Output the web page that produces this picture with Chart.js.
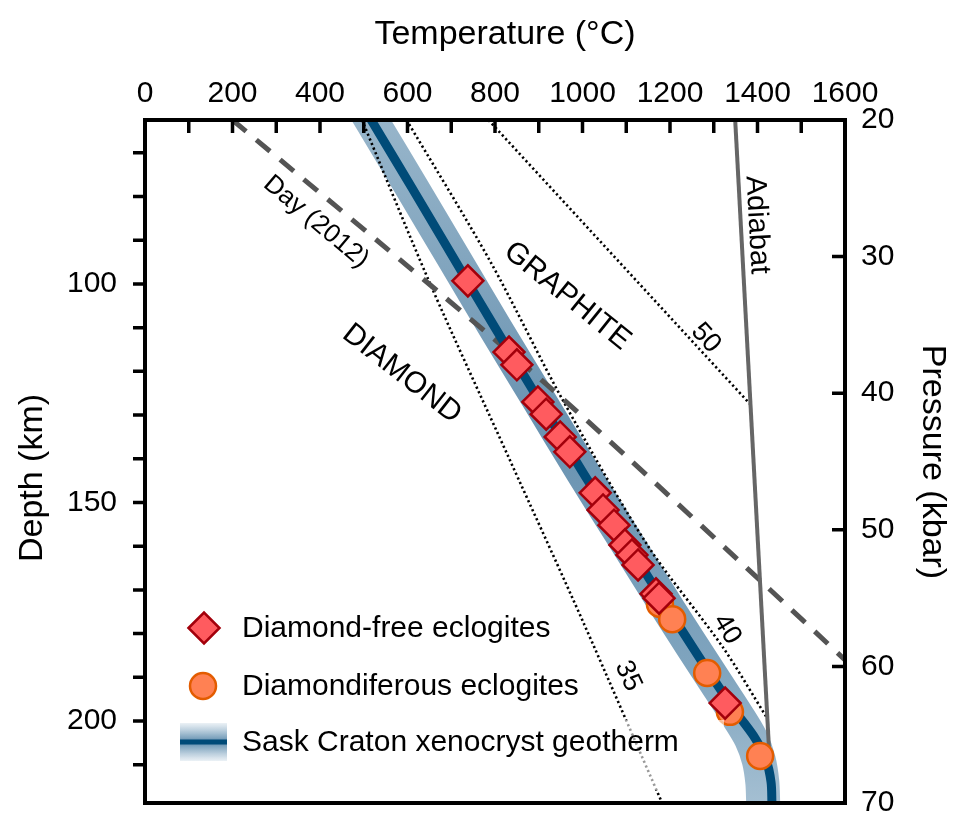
<!DOCTYPE html>
<html><head><meta charset="utf-8">
<script src="https://cdn.jsdelivr.net/npm/chart.js@4.4.1/dist/chart.umd.min.js"></script>
<style>html,body{margin:0;padding:0;background:#fff;}canvas{display:block;}</style>
</head><body>
<canvas id="c" width="958" height="813"></canvas>
<script>
// ---------- data (temperature in °C, depth in km) ----------
const tempTickMarks = [100,200,300,400,500,600,700,800,900,1000,1100,1200,1300,1400,1500];
const depthTicks = [70,80,90,100,110,120,130,140,150,160,170,180,190,200,210];
const depthTickLabels = [100,150,200];
const pressureTicks = [20,30,40,50,60,70];

const diamondFreeT     = [738, 832, 850, 898, 917, 949, 971, 1029, 1047, 1072, 1097, 1113, 1127, 1168, 1175, 1326];
const diamondFreeDepth = [99.3, 115.6, 118.5, 127.0, 129.8, 135.0, 138.4, 147.8, 151.7, 155.2, 159.7, 162.0, 164.3, 170.9, 171.9, 195.9];

const diamondifT     = [1177, 1205, 1285, 1337, 1406];
const diamondifDepth = [173.2, 176.7, 189.0, 197.9, 208.0];

const geothermT     = [517, 610, 705, 800, 900, 1000, 1100, 1200, 1300, 1355, 1395, 1420, 1431, 1433];
const geothermDepth = [62.5, 78, 94, 110, 126.5, 143, 159, 175, 190.5, 198.5, 204, 209, 214, 218.75];

const bandT     = [517, 610, 705, 800, 900, 1000, 1100, 1200, 1300, 1352, 1385, 1403, 1411, 1413];
const bandDepth = [62.5, 78, 94, 110, 126.5, 143, 159, 175, 190.5, 198.5, 204, 209, 214, 218.75];

const dayT     = [200, 674, 919, 1104, 1410, 1600];
const dayDepth = [62.5, 102.1, 123.1, 139.8, 168.2, 186.0];

const adiabatT     = [1349, 1433];
const adiabatDepth = [62.5, 218.75];

const geo35T     = [496, 651, 834, 1000, 1182];
const geo35Depth = [62.5, 99.8, 140.3, 177, 218.75];
const geo40T     = [598, 790, 955, 1150, 1320, 1420];
const geo40Depth = [62.5, 95, 126.6, 160, 183, 199];
const geo50T     = [785, 1385];
const geo50Depth = [62.5, 127.7];

const pts = (xs, ys) => xs.map((v, i) => ({x: v, y: ys[i]}));

const FONT = '"Liberation Sans", Arial, Helvetica, sans-serif';
Chart.defaults.font.family = FONT;
Chart.defaults.color = '#000';

const inlineLabels = [
  {text: 'Day (2012)', T: 391, d: 85.8, angle: 40, size: 26},
  {text: 'GRAPHITE',   T: 965, d: 102.8, angle: 39, size: 30},
  {text: 'DIAMOND',    T: 587, d: 120.6, angle: 38, size: 30},
  {text: 'Adiabat',    T: 1399, d: 86.5, angle: 87, size: 29},
  {text: '50',         T: 1282, d: 112.4, angle: 48, size: 27},
  {text: '40',         T: 1330, d: 179.0, angle: 59, size: 27},
  {text: '35',         T: 1104, d: 189.7, angle: 65, size: 27}
];

function bandGradient(context) {
  const chart = context.chart;
  const a = chart.chartArea;
  if (!a) return '#7ea3bd';
  const g = chart.ctx.createLinearGradient(0, a.top, 0, a.bottom);
  g.addColorStop(0, '#97b5ca');
  g.addColorStop(0.45, '#6a93b1');
  g.addColorStop(0.8, '#7fa4be');
  g.addColorStop(1, '#a4bfd2');
  return g;
}

const dotted = {showLine: true, pointRadius: 0, borderColor: '#000', borderWidth: 2.6, borderDash: [2.2, 2.8], fill: false, clip: 0};

const overlay = {
  id: 'overlay',
  afterDatasetsDraw(chart) {
    const {ctx, chartArea: a, scales} = chart;
    const sx = scales.x, sy = scales.y, sp = scales.y2;
    ctx.save();
    // legend translucent box behind third row
    ctx.fillStyle = 'rgba(255,255,255,0.6)';
    ctx.fillRect(176, 720, 548, 70);

    // inline labels
    ctx.fillStyle = '#000';
    ctx.textAlign = 'center';
    ctx.textBaseline = 'middle';
    inlineLabels.forEach(l => {
      ctx.save();
      ctx.translate(sx.getPixelForValue(l.T), sy.getPixelForValue(l.d));
      ctx.rotate(l.angle * Math.PI / 180);
      ctx.font = l.size + 'px ' + FONT;
      ctx.fillText(l.text, 0, 0);
      ctx.restore();
    });

    // tick marks
    ctx.strokeStyle = '#000';
    ctx.lineWidth = 3.5;
    ctx.lineCap = 'butt';
    ctx.beginPath();
    tempTickMarks.forEach(v => { const px = sx.getPixelForValue(v); ctx.moveTo(px, a.top); ctx.lineTo(px, a.top + 13); });
    depthTicks.forEach(v => { const py = sy.getPixelForValue(v); ctx.moveTo(a.left - 12, py); ctx.lineTo(a.left, py); });
    pressureTicks.slice(1, -1).forEach(v => { const py = sp.getPixelForValue(v); ctx.moveTo(a.right - 13, py); ctx.lineTo(a.right, py); });
    ctx.stroke();

    // frame
    ctx.lineWidth = 4;
    ctx.strokeRect(a.left, a.top, a.right - a.left, a.bottom - a.top);

    // axis titles
    ctx.font = '34px ' + FONT;
    ctx.fillText('Temperature (°C)', 505, 35);
    ctx.save(); ctx.translate(33, 478); ctx.rotate(-Math.PI / 2); ctx.fillText('Depth (km)', 0, 0); ctx.restore();
    ctx.save(); ctx.translate(932, 462); ctx.rotate(Math.PI / 2); ctx.fillText('Pressure (kbar)', 0, 0); ctx.restore();

    // legend
    const ds0 = chart.data.datasets[0], ds1 = chart.data.datasets[1];
    ctx.fillStyle = ds0.backgroundColor; ctx.strokeStyle = ds0.borderColor; ctx.lineWidth = 2.5;
    ctx.beginPath();
    ctx.moveTo(204 - 15.5, 628); ctx.lineTo(204, 628 - 15.5); ctx.lineTo(204 + 15.5, 628); ctx.lineTo(204, 628 + 15.5); ctx.closePath();
    ctx.fill(); ctx.stroke();
    ctx.fillStyle = ds1.backgroundColor; ctx.strokeStyle = ds1.borderColor;
    ctx.beginPath(); ctx.arc(203, 686, 13, 0, Math.PI * 2); ctx.fill(); ctx.stroke();
    const g = ctx.createLinearGradient(0, 723, 0, 761);
    g.addColorStop(0, 'rgba(120,160,190,0.15)');
    g.addColorStop(0.5, 'rgba(80,130,165,0.95)');
    g.addColorStop(1, 'rgba(120,160,190,0.15)');
    ctx.fillStyle = g;
    ctx.fillRect(180, 723, 47, 38);
    ctx.fillStyle = '#004b78';
    ctx.fillRect(180, 739.5, 47, 5);
    ctx.fillStyle = '#000';
    ctx.textAlign = 'left';
    ctx.font = '30px ' + FONT;
    ctx.fillText('Diamond-free eclogites', 242, 629);
    ctx.fillText('Diamondiferous eclogites', 242, 687);
    ctx.fillText('Sask Craton xenocryst geotherm', 242, 743);
    ctx.restore();
  }
};

new Chart(document.getElementById('c'), {
  type: 'scatter',
  data: {
    datasets: [
      {label: 'Diamond-free eclogites', data: pts(diamondFreeT, diamondFreeDepth), pointStyle: 'rectRot',
        pointRadius: 15.5, pointBorderWidth: 2.5, backgroundColor: '#ff5b5f', borderColor: '#a3000b', clip: false},
      {label: 'Diamondiferous eclogites', data: pts(diamondifT, diamondifDepth), pointStyle: 'circle',
        pointRadius: 13, pointBorderWidth: 2.5, backgroundColor: '#ff8153', borderColor: '#e35c00', clip: false},
      {label: 'geotherm', data: pts(geothermT, geothermDepth), showLine: true, pointRadius: 0,
        borderColor: '#004b78', borderWidth: 9, tension: 0.3, clip: 0, borderCapStyle: 'square'},
      {label: 'adiabat', data: pts(adiabatT, adiabatDepth), showLine: true, pointRadius: 0,
        borderColor: '#666666', borderWidth: 4, clip: 0},
      {label: 'Day (2012)', data: pts(dayT, dayDepth), showLine: true, pointRadius: 0,
        borderColor: '#545454', borderWidth: 5, borderDash: [18, 13], tension: 0.3, clip: 0},
      Object.assign({label: '35', data: pts(geo35T, geo35Depth), tension: 0.3}, dotted),
      Object.assign({label: '40', data: pts(geo40T, geo40Depth), tension: 0.3}, dotted),
      Object.assign({label: '50', data: pts(geo50T, geo50Depth)}, dotted),
      {label: 'band', data: pts(bandT, bandDepth), showLine: true, pointRadius: 0,
        borderColor: bandGradient, borderWidth: 34, tension: 0.3, clip: 0, borderCapStyle: 'square'}
    ]
  },
  options: {
    responsive: false,
    animation: false,
    events: [],
    layout: {padding: 0, autoPadding: false},
    plugins: {legend: {display: false}, tooltip: {enabled: false}},
    scales: {
      x: {
        type: 'linear', position: 'top', min: 0, max: 1600,
        grid: {display: false, drawTicks: false}, border: {display: false},
        ticks: {stepSize: 100, autoSkip: false, maxRotation: 0, padding: 8,
          font: {size: 30}, color: '#000',
          callback: v => (v % 200 === 0 ? String(v) : '')},
        afterFit: s => { s.height = 120; }
      },
      y: {
        type: 'linear', position: 'left', reverse: true, min: 62.5, max: 218.75,
        grid: {display: false, drawTicks: false}, border: {display: false},
        afterBuildTicks: s => { s.ticks = depthTicks.map(v => ({value: v})); },
        ticks: {autoSkip: false, padding: 28, font: {size: 30}, color: '#000',
          callback: v => (depthTickLabels.includes(v) ? String(v) : '')},
        afterFit: s => { s.width = 145; s.paddingTop = 0; s.paddingBottom = 10; }
      },
      y2: {
        type: 'linear', position: 'right', reverse: true, min: 20, max: 70,
        grid: {display: false, drawTicks: false}, border: {display: false},
        afterBuildTicks: s => { s.ticks = pressureTicks.map(v => ({value: v})); },
        ticks: {autoSkip: false, padding: 16, font: {size: 30}, color: '#000'},
        afterFit: s => { s.width = 113; s.paddingTop = 0; s.paddingBottom = 10; }
      }
    }
  },
  plugins: [overlay]
});
</script>
</body></html>
